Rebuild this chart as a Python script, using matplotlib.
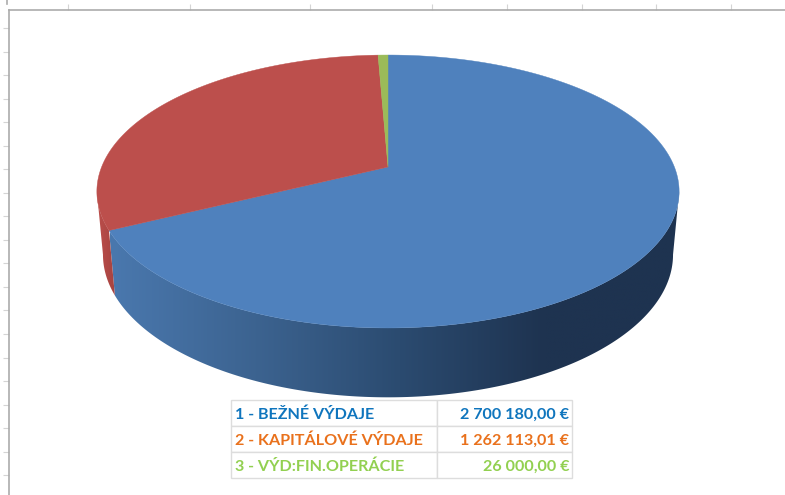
import numpy as np
import matplotlib
matplotlib.use("Agg")
import matplotlib.pyplot as plt
from matplotlib.colors import LinearSegmentedColormap
from matplotlib.patches import Polygon

# values of the pie, clockwise from 12 o'clock
labels = ["1 - BEŽNÉ VÝDAJE", "2 - KAPITÁLOVÉ VÝDAJE", "3 - VÝD:FIN.OPERÁCIE"]
amounts = [2700180.00, 1262113.01, 26000.00]
amount_labels = ["2 700 180,00 €", "1 262 113,01 €", "26 000,00 €"]
text_colors = ["#0F75BD", "#E9711C", "#92D050"]

top_colors = ["#4F81BD", "#BC4F4C", "#9BBB59"]
blue_wall = ["#4A78AE", "#3C6390", "#2B4B70", "#1E3350", "#1E3350"]
red_wall = ["#BC4F4C", "#A5423F"]

x_ticks = [68, 190, 310, 432, 507, 582, 656, 731]
y_ticks = [28, 51.5, 75, 98.5, 122, 145.5, 169, 192.5, 216, 240, 263, 287, 310, 334, 357.5, 381, 405, 428, 452, 475]

# projection of the round pie, one set for the top face and one for the bottom
CX = 388
TILT = 0.1795
TOP = dict(k=286.4, a=-102.1, b=167)
BOTTOM = dict(k=280.4, a=-97, b=229)
WIDTH, HEIGHT = 785, 495


def project(theta, plane):
    u, v = np.sin(theta), np.cos(theta)
    w = 1 + TILT * v
    return CX + plane["k"] * u / w, (plane["a"] * v + plane["b"]) / w


def arc(start, end, plane):
    x, y = project(np.linspace(start, end, 200), plane)
    return np.column_stack([x, y])


def draw_wall(ax, start, end, colors, x_range):
    points = np.vstack([arc(start, end, TOP), arc(end, start, BOTTOM)])
    patch = Polygon(points, closed=True, facecolor="none", edgecolor="none", transform=ax.transData)
    ax.add_patch(patch)
    cmap = LinearSegmentedColormap.from_list("wall", colors)
    image = ax.imshow(np.linspace(0, 1, 256).reshape(1, -1), cmap=cmap, aspect="auto",
                      extent=[x_range[0], x_range[1], 400, 150], zorder=2, interpolation="bilinear")
    image.set_clip_path(patch)


fig = plt.figure(figsize=(WIDTH / 100, HEIGHT / 100), dpi=100)
ax = fig.add_axes([9 / WIDTH, 0, 1 - 9 / WIDTH, 1 - 10 / HEIGHT])

shares = np.array(amounts) / sum(amounts)
edges = 2 * np.pi * np.concatenate([[0], np.cumsum(shares)])

# side of the pie: only the front part can be seen
right_end = np.pi - np.arcsin(np.sqrt(1 - TILT ** 2))
left_end = 2 * np.pi - right_end
draw_wall(ax, right_end, edges[1], blue_wall, (110, 690))
draw_wall(ax, edges[1], left_end, red_wall, (97, 116))

# top face
apex = (CX, TOP["b"])
for i, color in enumerate(top_colors):
    points = np.vstack([[apex], arc(edges[i], edges[i + 1], TOP)])
    ax.add_patch(Polygon(points, closed=True, facecolor=color, edgecolor=color, linewidth=0.3, zorder=3))

ax.set_xlim(9, WIDTH)
ax.set_ylim(HEIGHT, 10)
ax.xaxis.tick_top()
ax.set_xticks(x_ticks)
ax.set_yticks(y_ticks)
ax.set_xticklabels([])
ax.set_yticklabels([])
ax.tick_params(length=4.5, width=0.8, color="#D4D4D4")
for side in ["right", "bottom"]:
    ax.spines[side].set_visible(False)
for side in ["left", "top"]:
    ax.spines[side].set_color("#ABABAB")
    ax.spines[side].set_linewidth(1.2)

# small mark in the top corner
fig.add_artist(plt.Line2D([6.5 / WIDTH, 6.5 / WIDTH], [1 - 4 / HEIGHT, 1], color="#ABABAB", linewidth=1.2))

# table under the pie
table_ax = fig.add_axes([231 / WIDTH, 1 - 478 / HEIGHT, 341 / WIDTH, 78 / HEIGHT])
table_ax.axis("off")
rows = [[name, amount] for name, amount in zip(labels, amount_labels)]
table = table_ax.table(cellText=rows, cellLoc="left", colWidths=[206 / 341, 135 / 341], bbox=[0, 0, 1, 1])
table.auto_set_font_size(False)
for (row, col), cell in table.get_celld().items():
    cell.set_edgecolor("#DDDDDD")
    cell.set_linewidth(1.0)
    cell.PAD = 0.02
    text = cell.get_text()
    text.set_family("Lato")
    text.set_fontweight("bold")
    text.set_fontsize(11.6)
    text.set_color(text_colors[row])
    text.set_verticalalignment("center_baseline")
    if col == 1:
        cell.set_text_props(ha="right")
        cell._loc = "right"

fig.savefig("out.png", dpi=100)
